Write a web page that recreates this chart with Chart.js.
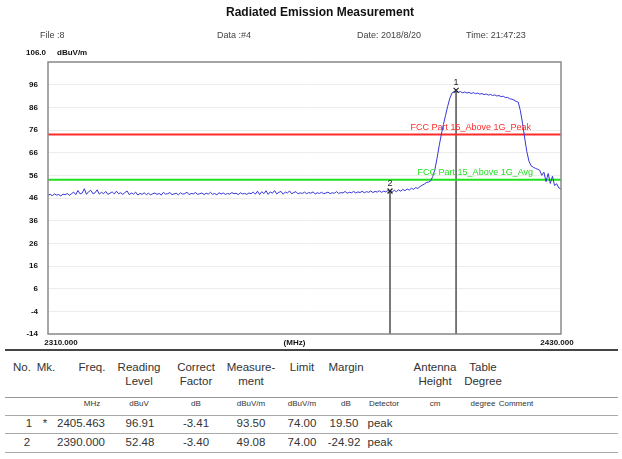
<!DOCTYPE html>
<html><head><meta charset="utf-8">
<script src="https://cdn.jsdelivr.net/npm/chart.js@4/dist/chart.umd.min.js"></script>
<style>
body{margin:0;background:#fff;width:622px;height:459px;position:relative;overflow:hidden;font-family:"Liberation Sans",Arial,sans-serif;color:#222;}
#c{position:absolute;left:0;top:0;}
.t{position:absolute;white-space:nowrap;}
.title{left:0;width:640px;text-align:center;top:5px;font-weight:bold;font-size:12px;color:#111;}
.hd{font-size:9px;color:#444;top:30px;}
.unit{font-size:8px;font-weight:bold;color:#111;top:48px;}
.cell{transform:translateX(-50%);text-align:center;}
.hline{position:absolute;left:5px;width:613px;height:1px;background:#aaa;}
</style>
</head><body>
<canvas id="c" width="622" height="350"></canvas>
<div class="t title">Radiated Emission Measurement</div>
<div class="t hd" style="left:40px">File :8</div>
<div class="t hd" style="left:217px">Data :#4</div>
<div class="t hd" style="left:357px">Date: 2018/8/20</div>
<div class="t hd" style="left:466px">Time: 21:47:23</div>
<div class="t unit" style="left:26px">106.0</div>
<div class="t unit" style="left:57px">dBuV/m</div>
<div class="hline" style="top:349px;height:2px;background:#444"></div>
<div class="hline" style="top:397px;background:#999"></div>
<div class="hline" style="top:415px"></div>
<div class="hline" style="top:433px"></div>
<div class="hline" style="top:452px"></div>
<div id="tbl"></div>
<script>
// ---- chart data ----
const traceFreq = [
2310.0,2310.5,2311.0,2311.5,2312.0,2312.5,2313.0,2313.5,2314.0,2314.5,2315.0,2315.5,2316.0,2316.5,2317.0,2317.5,2318.0,2318.5,2319.0,2319.5,
2320.0,2320.5,2321.0,2321.5,2322.0,2322.5,2323.0,2323.5,2324.0,2324.5,2325.0,2325.5,2326.0,2326.5,2327.0,2327.5,2328.0,2328.5,2329.0,2329.5,
2330.0,2330.5,2331.0,2331.5,2332.0,2332.5,2333.0,2333.5,2334.0,2334.5,2335.0,2335.5,2336.0,2336.5,2337.0,2337.5,2338.0,2338.5,2339.0,2339.5,
2340.0,2340.5,2341.0,2341.5,2342.0,2342.5,2343.0,2343.5,2344.0,2344.5,2345.0,2345.5,2346.0,2346.5,2347.0,2347.5,2348.0,2348.5,2349.0,2349.5,
2350.0,2350.5,2351.0,2351.5,2352.0,2352.5,2353.0,2353.5,2354.0,2354.5,2355.0,2355.5,2356.0,2356.5,2357.0,2357.5,2358.0,2358.5,2359.0,2359.5,
2360.0,2360.5,2361.0,2361.5,2362.0,2362.5,2363.0,2363.5,2364.0,2364.5,2365.0,2365.5,2366.0,2366.5,2367.0,2367.5,2368.0,2368.5,2369.0,2369.5,
2370.0,2370.5,2371.0,2371.5,2372.0,2372.5,2373.0,2373.5,2374.0,2374.5,2375.0,2375.5,2376.0,2376.5,2377.0,2377.5,2378.0,2378.5,2379.0,2379.5,
2380.0,2380.5,2381.0,2381.5,2382.0,2382.5,2383.0,2383.5,2384.0,2384.5,2385.0,2385.5,2386.0,2386.5,2387.0,2387.5,2388.0,2388.5,2389.0,2389.5,
2390.0,2390.5,2391.0,2391.5,2392.0,2392.5,2393.0,2393.5,2394.0,2394.5,2395.0,2395.5,2396.0,2396.5,2397.0,2397.5,2398.0,2398.5,2399.0,2399.5,
2400.0,2400.5,2401.0,2401.5,2402.0,2402.5,2403.0,2403.5,2404.0,2404.5,2405.0,2405.5,2406.0,2406.5,2407.0,2407.5,2408.0,2408.5,2409.0,2409.5,
2410.0,2410.5,2411.0,2411.5,2412.0,2412.5,2413.0,2413.5,2414.0,2414.5,2415.0,2415.5,2416.0,2416.5,2417.0,2417.5,2418.0,2418.5,2419.0,2419.5,
2420.0,2420.5,2421.0,2421.5,2422.0,2422.5,2423.0,2423.5,2424.0,2424.5,2425.0,2425.5,2426.0,2426.5,2427.0,2427.5,2428.0,2428.5,2429.0,2429.5,
2430.0];
const traceLevel = [
47.2,47.6,47.0,47.8,47.3,47.5,46.9,47.7,47.4,48.0,47.2,47.9,48.6,47.5,49.3,47.8,48.2,50.1,47.6,48.8,
49.4,47.9,48.3,49.6,47.7,48.5,47.9,48.9,47.6,48.1,48.7,47.8,49.0,47.9,48.3,47.6,48.4,49.1,47.5,48.2,
47.7,48.6,47.3,48.0,47.6,48.3,47.5,48.1,47.4,47.9,48.2,47.6,48.0,47.3,48.5,47.7,47.9,48.4,47.5,47.8,
48.1,47.4,48.3,47.7,47.9,48.6,47.5,48.0,47.8,48.4,47.6,47.9,48.2,47.5,48.1,47.7,48.5,47.6,48.0,47.4,
48.3,47.8,48.2,47.6,48.0,47.7,48.4,47.9,48.1,47.5,48.3,47.8,48.0,47.6,48.2,47.9,48.6,47.7,49.0,47.5,
48.8,47.9,49.2,47.6,48.7,48.1,49.3,47.8,48.5,48.9,47.7,48.6,48.2,49.1,47.9,48.4,48.8,47.8,48.3,48.0,
48.6,47.9,48.4,48.1,48.7,47.8,48.3,48.0,48.5,47.9,48.2,48.6,47.9,48.3,48.1,48.8,48.0,48.4,48.2,48.9,
48.1,48.5,48.3,48.9,48.2,48.7,48.4,49.0,48.3,48.8,48.5,49.1,48.4,48.9,48.6,49.2,48.5,49.0,48.7,49.3,
49.1,48.6,49.4,48.8,49.6,49.0,49.8,49.2,50.0,49.5,50.3,49.8,50.6,50.2,51.0,51.6,52.1,52.8,53.0,53.5,
55.5,58.5,63.5,69.0,74.0,78.5,82.5,86.5,90.0,92.3,93.0,93.5,92.7,92.9,92.4,92.8,92.3,92.6,92.1,92.5,
92.0,92.3,91.8,92.1,91.6,91.9,91.4,91.7,91.2,91.5,91.0,91.2,90.7,90.9,90.3,90.4,89.8,89.6,89.2,88.6,
88.3,84.5,79.0,72.5,66.5,62.3,60.2,59.6,59.1,58.7,58.3,56.0,57.4,53.2,56.8,52.4,55.6,51.5,52.3,50.4,
50.0];
const limitNames = ["FCC Part 15_Above 1G_Peak","FCC Part 15_Above 1G_Avg"];
const limitLevels = [74, 54];
const markerNo = ["1","2"];
const markerFreq = [2405.463, 2390.000];
const markerLevel = [93.50, 49.08];
const xRange = [2310, 2430];
const yRange = [-14, 106];
const xTickLabels = ["2310.000","(MHz)","2430.000"];

// ---- table data ----
const headLine1 = ["No.","Mk.","Freq.","Reading","Correct","Measure-","Limit","Margin","","Antenna","Table",""];
const headLine2 = ["","","","Level","Factor","ment","","","","Height","Degree",""];
const units = ["","","MHz","dBuV","dB","dBuV/m","dBuV/m","dB","Detector","cm","degree","Comment"];
const rowNo = ["1","2"];
const rowMk = ["*",""];
const rowFreq = ["2405.463","2390.000"];
const rowReading = ["96.91","52.48"];
const rowCorrect = ["-3.41","-3.40"];
const rowMeas = ["93.50","49.08"];
const rowLimit = ["74.00","74.00"];
const rowMargin = ["19.50","-24.92"];
const rowDetector = ["peak","peak"];

// ---- table layout ----
const colX = [22,46,92,139,196,251,302,346,384,435,483,516];
const tbl = document.getElementById('tbl');
function put(txt, x, y, size, extra){
  if(!txt) return;
  const d=document.createElement('div');
  d.className='t cell';
  d.textContent=txt;
  d.style.left=x+'px'; d.style.top=y+'px'; d.style.fontSize=size+'px';
  d.style.color='#333';
  if(extra) Object.assign(d.style, extra);
  tbl.appendChild(d);
}
headLine1.forEach((s,i)=>put(s,colX[i],361,11.5));
headLine2.forEach((s,i)=>put(s,colX[i],375,11.5));
units.forEach((s,i)=>put(s,colX[i],399,8));
const rowY=[417,436];
const rowCols=[rowNo,rowMk,rowFreq,rowReading,rowCorrect,rowMeas,rowLimit,rowMargin,rowDetector];
const rowColX=[29,45,81,140,196,251,302,344,380];
rowCols.forEach((col,ci)=>col.forEach((s,ri)=>put(s,rowColX[ci]-(ci===0&&ri===1?2:0),rowY[ri],11.5)));

// ---- chart ----
const pts = traceFreq.map((f,i)=>({x:f,y:traceLevel[i]}));
const limitColors=['#ff2a2a','#1fe01f'];
const datasets=[
  {label:'trace',data:pts,borderColor:'#3636d8',borderWidth:1,pointRadius:0,tension:0,order:1},
];
limitLevels.forEach((v,i)=>datasets.push({label:limitNames[i],data:[{x:xRange[0],y:v},{x:xRange[1],y:v}],borderColor:limitColors[i],borderWidth:2,pointRadius:0,order:2}));
markerFreq.forEach((f,i)=>datasets.push({label:'mkline'+i,data:[{x:f,y:markerLevel[i]},{x:f,y:yRange[0]}],borderColor:'#666',borderWidth:1,pointRadius:0,order:3}));
datasets.push({label:'markers',data:markerFreq.map((f,i)=>({x:f,y:markerLevel[i]})),showLine:false,pointStyle:'crossRot',pointRadius:3.5,borderColor:'#222',borderWidth:1.2,order:0});

const deco={
  id:'deco',
  afterDraw(chart){
    const {ctx,chartArea:a,scales:{x,y}}=chart;
    ctx.save();
    ctx.strokeStyle='#8a8a8a';ctx.lineWidth=1.5;
    ctx.strokeRect(a.left,a.top,a.right-a.left,a.bottom-a.top);
    // x labels
    ctx.fillStyle='#111';ctx.font='bold 8px "Liberation Sans", Arial';ctx.textBaseline='middle';ctx.textAlign='center';
    ctx.fillText(xTickLabels[0],x.getPixelForValue(xRange[0])+13,a.bottom+9);
    ctx.fillText(xTickLabels[1],x.getPixelForValue((xRange[0]+xRange[1])/2)-10,a.bottom+9);
    ctx.fillText(xTickLabels[2],x.getPixelForValue(xRange[1])-4,a.bottom+9);
    // limit labels
    ctx.font='9px "Liberation Sans", Arial';ctx.textAlign='right';ctx.textBaseline='alphabetic';
    limitLevels.forEach((v,i)=>{ctx.fillStyle=limitColors[i];ctx.fillText(limitNames[i],x.getPixelForValue(xRange[1])-30+(i*2),y.getPixelForValue(v)-5);});
    // marker numbers
    ctx.fillStyle='#222';ctx.textAlign='center';ctx.font='9px "Liberation Sans", Arial';
    markerFreq.forEach((f,i)=>ctx.fillText(markerNo[i],x.getPixelForValue(f),y.getPixelForValue(markerLevel[i])-5));
    ctx.restore();
  }
};

new Chart(document.getElementById('c'),{
  type:'line',
  data:{datasets},
  options:{
    responsive:false,animation:false,devicePixelRatio:1,
    layout:{padding:{left:0,right:61,top:62,bottom:0}},
    plugins:{legend:{display:false},tooltip:{enabled:false}},
    scales:{
      x:{type:'linear',min:xRange[0],max:xRange[1],
         grid:{display:false,drawTicks:false},border:{display:false},
         ticks:{display:false},
         afterFit(s){s.height=16;}},
      y:{type:'linear',min:yRange[0],max:yRange[1],
         grid:{color:'#ececec',drawTicks:false},border:{display:false},
         ticks:{stepSize:10,padding:10,color:'#111',font:{family:'"Liberation Sans", Arial',size:8,weight:'bold'},
                callback:(v)=>v===yRange[1]?'':String(v)},
         afterFit(s){s.width=48;}}
    }
  },
  plugins:[deco]
});
</script>
</body></html>
